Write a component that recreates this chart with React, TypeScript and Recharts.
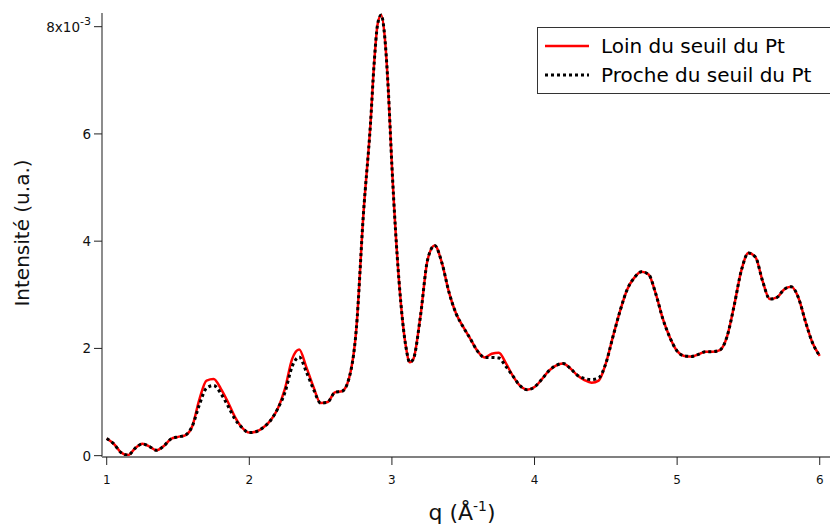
import React from "react";
import {
  LineChart,
  Line,
  XAxis,
  YAxis,
} from "recharts";

// q (Å^-1)
const Q = [
  1.0, 1.05, 1.1, 1.15, 1.2, 1.25, 1.3, 1.35, 1.4, 1.45, 1.5, 1.55, 1.6, 1.65,
  1.7, 1.75, 1.8, 1.85, 1.9, 1.95, 2.0, 2.05, 2.1, 2.15, 2.2, 2.25, 2.3, 2.35,
  2.4, 2.45, 2.5, 2.55, 2.6, 2.65, 2.7, 2.75, 2.8, 2.85, 2.875, 2.9, 2.925,
  2.95, 2.975, 3.0, 3.05, 3.1, 3.125, 3.15, 3.2, 3.25, 3.3, 3.35, 3.4, 3.45,
  3.5, 3.55, 3.6, 3.65, 3.7, 3.75, 3.8, 3.85, 3.9, 3.95, 4.0, 4.05, 4.1, 4.15,
  4.2, 4.25, 4.3, 4.35, 4.4, 4.45, 4.5, 4.55, 4.6, 4.65, 4.7, 4.75, 4.8, 4.85,
  4.9, 4.95, 5.0, 5.05, 5.1, 5.15, 5.2, 5.25, 5.3, 5.35, 5.4, 5.45, 5.5, 5.55,
  5.6, 5.65, 5.7, 5.75, 5.8, 5.85, 5.9, 5.95, 6.0,
];

// intensité, en unités de 10^-3
const LOIN = [
  0.32, 0.22, 0.06, 0.01, 0.14, 0.22, 0.17, 0.1, 0.18, 0.31, 0.35, 0.38, 0.55,
  1.05, 1.4, 1.43, 1.25, 1.0, 0.72, 0.52, 0.43, 0.45, 0.53, 0.66, 0.88, 1.25,
  1.8, 1.98, 1.65, 1.28, 0.98, 1.0, 1.18, 1.2, 1.45, 2.35, 4.5, 6.2, 7.3, 8.05,
  8.22, 7.8, 6.8, 5.4, 3.25, 2.0, 1.74, 1.8, 2.6, 3.65, 3.92, 3.6, 3.05, 2.65,
  2.4, 2.18, 1.95, 1.83, 1.9, 1.92, 1.72, 1.48, 1.3, 1.23, 1.28, 1.42, 1.58,
  1.68, 1.72, 1.63, 1.5, 1.41, 1.36, 1.4, 1.72, 2.22, 2.7, 3.1, 3.32, 3.43,
  3.38, 3.02, 2.55, 2.2, 1.95, 1.86, 1.85, 1.89, 1.94, 1.94, 1.97, 2.22, 2.8,
  3.45, 3.78, 3.7, 3.25, 2.92, 2.95, 3.1, 3.15, 2.95, 2.5, 2.1, 1.86,
];

const PROCHE = [
  0.32, 0.22, 0.06, 0.01, 0.14, 0.22, 0.17, 0.1, 0.18, 0.31, 0.35, 0.38, 0.55,
  0.95, 1.26, 1.31, 1.16, 0.93, 0.68, 0.52, 0.43, 0.45, 0.53, 0.66, 0.88, 1.18,
  1.66, 1.84, 1.56, 1.24, 0.98, 1.0, 1.18, 1.2, 1.45, 2.35, 4.5, 6.2, 7.3, 8.05,
  8.22, 7.8, 6.8, 5.4, 3.25, 2.0, 1.74, 1.8, 2.6, 3.65, 3.92, 3.6, 3.05, 2.65,
  2.4, 2.18, 1.95, 1.83, 1.83, 1.82, 1.66, 1.48, 1.3, 1.23, 1.28, 1.42, 1.58,
  1.68, 1.72, 1.63, 1.5, 1.44, 1.42, 1.45, 1.72, 2.22, 2.7, 3.1, 3.32, 3.43,
  3.38, 3.02, 2.55, 2.2, 1.95, 1.86, 1.85, 1.89, 1.94, 1.94, 1.97, 2.22, 2.8,
  3.45, 3.78, 3.7, 3.25, 2.92, 2.95, 3.1, 3.15, 2.95, 2.5, 2.1, 1.86,
];

const X_TICKS = [1, 2, 3, 4, 5, 6];
const Y_TICKS = [0, 2, 4, 6, 8];

const data = Q.map((q, i) => ({ q, loin: LOIN[i], proche: PROCHE[i] }));

const FONT = "'DejaVu Sans', Verdana, sans-serif";

// y tick labels sit right-aligned just left of the tick marks
const YTick = ({ y, payload }: any) => {
  if (payload.value === 8) {
    return (
      <text x={91} y={y} dy={5} textAnchor="end" fontSize={13.5} fill="#111" fontFamily={FONT}>
        8x10
        <tspan dy={-7} fontSize={11}>-3</tspan>
      </text>
    );
  }
  return (
    <text x={91} y={y} dy={5} textAnchor="end" fontSize={13.5} fill="#111" fontFamily={FONT}>
      {payload.value}
    </text>
  );
};

const XTick = ({ x, payload }: any) => (
  <text x={x} y={484} textAnchor="middle" fontSize={12} fill="#111" fontFamily={FONT}>
    {payload.value}
  </text>
);

const XLabel = () => (
  <text x={462} y={520} textAnchor="middle" fontSize={22} fill="#111" fontFamily={FONT}>
    q (Å
    <tspan dy={-9} fontSize={14}>-1</tspan>
    <tspan dy={9}>)</tspan>
  </text>
);

const YLabel = () => (
  <text
    x={22}
    y={233}
    transform="rotate(-90 22 233)"
    textAnchor="middle"
    dominantBaseline="central"
    fontSize={20}
    fill="#111"
    fontFamily={FONT}
  >
    Intensité (u.a.)
  </text>
);

export default function App() {
  return (
    <div style={{ position: "absolute", left: 0, top: 0, width: 830, height: 525, background: "#fff" }}>
      <LineChart
        width={830}
        height={525}
        data={data}
        margin={{ top: 13, right: 0, left: 0, bottom: 0 }}
      >
        <XAxis
          dataKey="q"
          type="number"
          domain={[0.967, 6.072]}
          ticks={X_TICKS}
          allowDataOverflow
          height={68}
          tickSize={8}
          tickMargin={2}
          stroke="#808080"
          strokeWidth={1.8}
          tickLine={{ stroke: "#222", strokeWidth: 1 }}
          tick={<XTick />}
          label={() => <XLabel />}
        />
        <YAxis
          type="number"
          domain={[-0.025, 8.255]}
          ticks={Y_TICKS}
          allowDataOverflow
          width={102}
          tickSize={8}
          tickMargin={3}
          stroke="#808080"
          strokeWidth={1.8}
          tickLine={{ stroke: "#222", strokeWidth: 1 }}
          tick={<YTick />}
          label={() => <YLabel />}
        />
        <Line
          type="monotone"
          dataKey="loin"
          stroke="#ff0000"
          strokeWidth={2.5}
          dot={false}
          isAnimationActive={false}
        />
        <Line
          type="monotone"
          dataKey="proche"
          stroke="#000"
          strokeWidth={3}
          strokeDasharray="3 3"
          dot={false}
          isAnimationActive={false}
        />
      </LineChart>
      <div
        style={{
          position: "absolute",
          left: 537,
          top: 27,
          width: 300,
          height: 67,
          border: "1px solid #333",
          background: "#fff",
          fontFamily: FONT,
          fontSize: 20,
          color: "#000",
          boxSizing: "border-box",
        }}
      >
        <div style={{ position: "absolute", left: 7, top: 6, display: "flex", alignItems: "center" }}>
          <svg width={46} height={24}>
            <line x1={0} y1={12} x2={44} y2={12} stroke="#ff0000" strokeWidth={2.5} />
          </svg>
          <span style={{ marginLeft: 10 }}>Loin du seuil du Pt</span>
        </div>
        <div style={{ position: "absolute", left: 7, top: 35, display: "flex", alignItems: "center" }}>
          <svg width={46} height={24}>
            <line x1={0} y1={12} x2={44} y2={12} stroke="#000" strokeWidth={3} strokeDasharray="3 3" />
          </svg>
          <span style={{ marginLeft: 10 }}>Proche du seuil du Pt</span>
        </div>
      </div>
    </div>
  );
}
